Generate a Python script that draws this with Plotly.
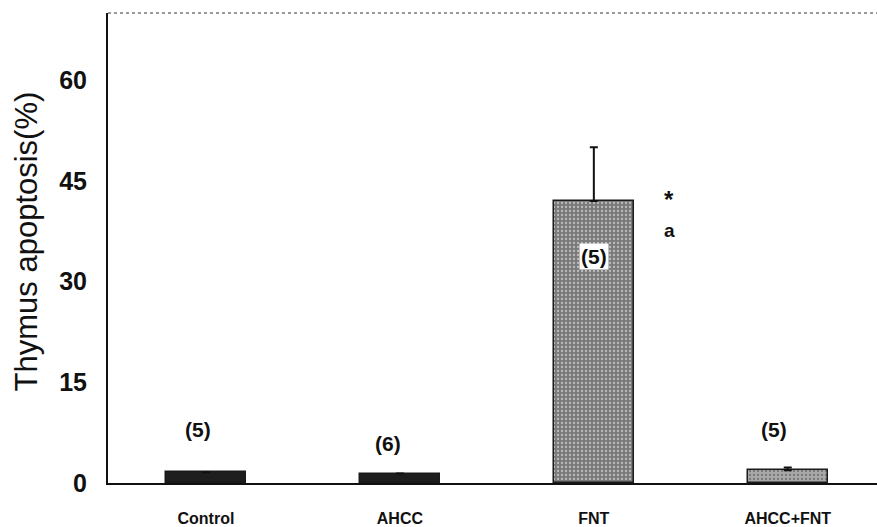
import plotly.graph_objects as go

categories = ["Control", "AHCC", "FNT", "AHCC+FNT"]
values = [1.6, 1.4, 42.0, 1.9]
err_plus = [0.0, 0.0, 8.0, 0.4]
n_labels = ["(5)", "(6)", "(5)", "(5)"]
n_label_y = [8.0, 5.9, 33.8, 8.0]
n_label_dx = [-0.04, -0.06, 0.0, -0.07]
yticks = [0, 15, 30, 45, 60]

bar_colors = ["#1e1e1e", "#1e1e1e", "#7a7a7a", "#a9a9a9"]
pattern_fg = ["#1e1e1e", "#1e1e1e", "#4a4a4a", "#5a5a5a"]
pattern_shape = ["", "", ".", "."]

FONT = "Liberation Sans, Arial, sans-serif"

fig = go.Figure()
fig.add_trace(go.Bar(
    x=list(range(len(categories))),
    y=values,
    width=0.41,
    marker=dict(
        color=bar_colors,
        line=dict(color="#1a1a1a", width=1.5),
        pattern=dict(shape=pattern_shape, fgcolor=pattern_fg, size=4, solidity=0.25),
    ),
    error_y=dict(type="data", symmetric=False, array=err_plus,
                 arrayminus=[0] * 4, color="#111", thickness=2, width=4),
    showlegend=False,
))

# sample-size labels
for i, t in enumerate(n_labels):
    inside = n_label_y[i] < values[i]
    fig.add_annotation(x=i + n_label_dx[i], y=n_label_y[i], xref="x", yref="y",
                       text=f"<b>{t}</b>", showarrow=False,
                       bgcolor="white" if inside else None, borderpad=1,
                       font=dict(family=FONT, size=21, color="#111"))

fig.add_annotation(x=2.39, y=42.2, xref="x", yref="y", text="<b>*</b>",
                   showarrow=False, font=dict(family=FONT, size=24, color="#111"))
fig.add_annotation(x=2.39, y=37.6, xref="x", yref="y", text="<b>a</b>",
                   showarrow=False, font=dict(family=FONT, size=19, color="#111"))

# y-axis title
fig.add_annotation(x=-0.106, y=0.515, xref="paper", yref="paper",
                   xanchor="center", yanchor="middle",
                   text="Thymus apoptosis(%)", textangle=-90, showarrow=False,
                   font=dict(family=FONT, size=31, color="#111"))

# faint dotted top frame
fig.add_shape(type="line", xref="paper", yref="paper", x0=0, x1=1, y0=1, y1=1,
              line=dict(color="#9a9a9a", width=2, dash="dot"))

fig.update_layout(
    width=877, height=527,
    margin=dict(l=108, r=0, t=13, b=40),
    plot_bgcolor="white", paper_bgcolor="white",
    bargap=0,
    xaxis=dict(
        tickmode="array", tickvals=list(range(len(categories))),
        ticktext=[f"<b>{c}</b>" for c in categories],
        range=[-0.505, 3.46],
        showline=True, linecolor="#111", linewidth=2,
        showgrid=False, zeroline=False, ticks="",
        tickfont=dict(family=FONT, size=16, color="#111"),
        ticklabelstandoff=20,
    ),
    yaxis=dict(
        range=[0, 70], tickmode="array", tickvals=yticks,
        ticktext=[f"<b>{v}</b>" for v in yticks],
        showline=True, linecolor="#111", linewidth=2,
        showgrid=False, zeroline=False, ticks="",
        tickfont=dict(family=FONT, size=25, color="#111"),
        ticklabelstandoff=14,
    ),
)

fig.write_html("out.html")
